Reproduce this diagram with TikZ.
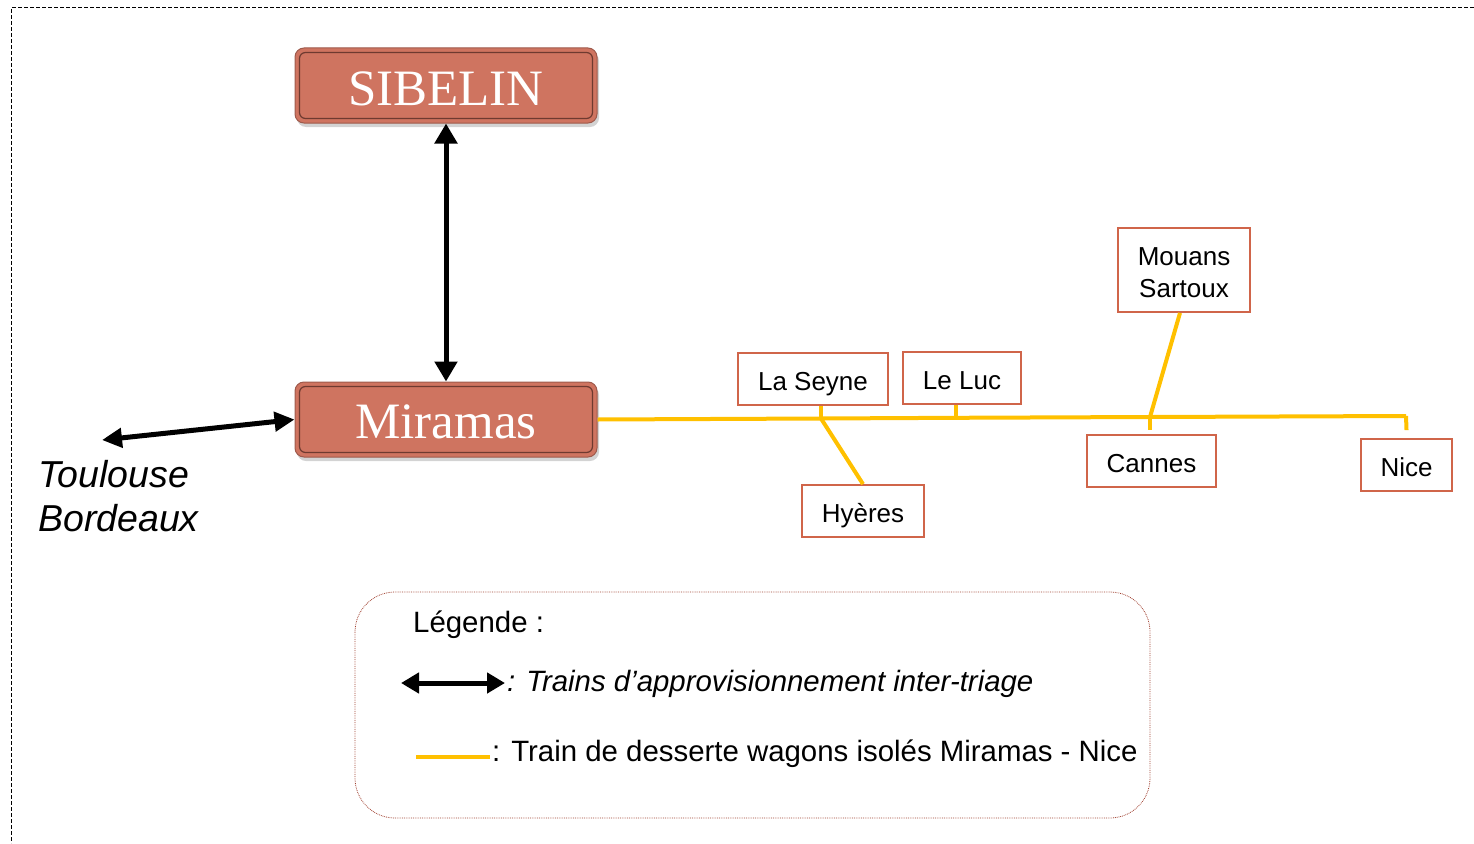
\documentclass[tikz,border=0pt]{standalone}
\usepackage{fontspec}
\setmainfont{Liberation Sans}
\newfontfamily\serifbox{Liberation Serif}
\usetikzlibrary{arrows.meta,shadows}
\definecolor{redfill}{HTML}{CF7460}
\definecolor{redouter}{HTML}{9E5A4C}
\definecolor{redinner}{HTML}{6E3A30}
\definecolor{stationred}{HTML}{D0654A}
\definecolor{trainyellow}{HTML}{FFC000}
\definecolor{legendred}{HTML}{A04030}
\tikzset{
  yardbox/.style={draw=redouter, line width=1pt, fill=redfill, rounded corners=9pt,
    minimum width=302pt, minimum height=75pt, inner sep=0pt,
    text=white, font=\serifbox\fontsize{51}{55}\selectfont, text depth=0pt,
    drop shadow={shadow xshift=2pt, shadow yshift=-4pt, opacity=0.35}},
  station/.style={draw=stationred, line width=1.8pt, fill=white, inner sep=0pt,
    font=\fontsize{26}{32}\selectfont, align=center},
  onestation/.style={station, text height=24pt, text depth=2pt},
  supply/.style={line width=5pt, {Triangle[width=22pt,length=20pt]}-{Triangle[width=22pt,length=20pt]}},
  yellowline/.style={draw=trainyellow, line width=4pt},
  legtext/.style={font=\fontsize{29.4}{34}\selectfont, anchor=west, inner sep=0pt},
}
\begin{document}
\begin{tikzpicture}[x=1pt,y=-1pt]
\useasboundingbox (0,0) rectangle (1474,843);
% outer dashed frame
\draw[line width=1pt, dash pattern=on 4pt off 2pt] (1474,8) -- (11,8) -- (11,843);

% yards
\node[yardbox, text height=39pt] (sib) at (446,85.5) {SIBELIN};
\node[yardbox, text height=37pt] (mir) at (446,419.5) {Miramas};
\foreach \n in {sib,mir}{
  \draw[redinner, line width=1.2pt, rounded corners=6pt]
    ([xshift=5pt,yshift=-5pt]\n.north west) rectangle ([xshift=-5pt,yshift=5pt]\n.south east);
}

% supply arrows
\draw[supply] (sib.south) -- (mir.north);
\coordinate (tb) at (102,440);
\draw[line width=5pt, {Triangle[width=19pt,length=20pt]}-{Triangle[width=19pt,length=20pt]}] (tb) -- (mir.west);
\node[font=\itshape\fontsize{37.5}{44}\selectfont, align=left, anchor=north west, inner sep=0pt] (tbl) at (38,460) {Toulouse\\Bordeaux};

% stations
\node[onestation, minimum width=150pt, minimum height=52pt] (seyne) at (813,379) {La Seyne};
\node[onestation, minimum width=122pt, minimum height=52pt] (hyeres) at (863,511) {Hyères};
\node[onestation, minimum width=118pt, minimum height=52pt] (luc) at (962,378) {Le Luc};
\node[station, minimum width=132pt, minimum height=84pt] (mouans) at (1184,270)
  {\raisebox{-11pt}[0pt][0pt]{\begin{tabular}{@{}c@{}}Mouans\\Sartoux\end{tabular}}};
\node[onestation, minimum width=129pt, minimum height=52pt] (cannes) at (1151.5,461) {Cannes};
\node[onestation, minimum width=91pt, minimum height=52pt] (nice) at (1406.5,465) {Nice};

% yellow line
\coordinate (jseyne) at (821,418.5);
\coordinate (jluc) at (956,417.8);
\coordinate (jcannes) at (1150,417);
\coordinate (jnice) at (1406,416);
\draw[yellowline] (mir.east) -- (jseyne) -- (jluc) -- (jcannes) -- (jnice);
\draw[yellowline] (jnice) -- ([yshift=8pt]nice.north);
\draw[yellowline] (jcannes) -- ([yshift=4pt,xshift=-1.5pt]cannes.north);
\draw[yellowline] (seyne.south -| jseyne) -- (jseyne);
\draw[yellowline] (luc.south -| jluc) -- (jluc);
\draw[yellowline] (jseyne) -- (hyeres.north);
\draw[yellowline] ([xshift=-4pt]mouans.south) -- (jcannes);

% legend
\draw[legendred, line width=0.8pt, densely dotted, rounded corners=40pt] (355,592) rectangle (1150,818);
\node[legtext] (leg) at (413,625) {Légende :};
\coordinate (la1) at (401,683);
\coordinate (la2) at (505,683);
\draw[line width=5pt, {Triangle[width=20pt,length=18pt]}-{Triangle[width=20pt,length=18pt]}] (la1) -- (la2);
\node[legtext, font=\itshape\fontsize{29.4}{34}\selectfont] (legA) at (507,684) {: Trains d’approvisionnement inter-triage};
\coordinate (ly1) at (416,757);
\coordinate (ly2) at (490,757);
\draw[yellowline] (ly1) -- (ly2);
\node[legtext] (legB) at (492,754) {: Train de desserte wagons isolés Miramas - Nice};
\end{tikzpicture}
\end{document}
